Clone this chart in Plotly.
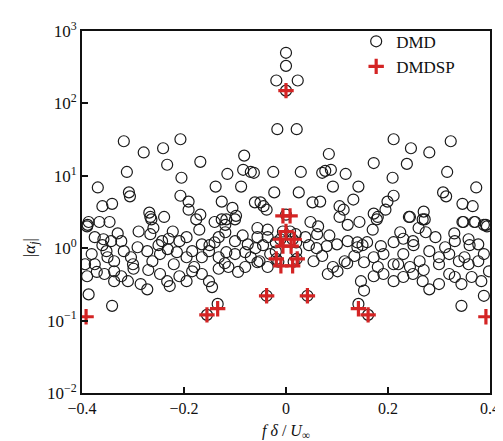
import plotly.graph_objects as go

# ---- DMD modes (frequency f*delta/U, amplitude |alpha_j|) ----
dmd_freq = [
    # upper left
    -0.318, -0.312, -0.279, -0.241, -0.233, -0.207, -0.205, -0.168, -0.369, -0.308,
    -0.306, -0.360, -0.341, -0.389, -0.390, -0.366, -0.346, -0.268, -0.264, -0.239,
    -0.207, -0.191, -0.191, -0.168, -0.138, -0.115, -0.126, -0.105, -0.117, -0.098,
    -0.082, -0.084, -0.069, -0.063, -0.088, -0.061, -0.050, -0.044, -0.038, -0.025,
    -0.023, -0.017, -0.140, -0.126, -0.019,
    # left band
    -0.387, -0.266, -0.176, -0.119, -0.100, -0.056, -0.036, -0.375, -0.358, -0.343,
    -0.323, -0.289, -0.266, -0.243, -0.222, -0.209, -0.195, -0.165, -0.132, -0.119,
    -0.100, -0.075, -0.056, -0.036, -0.381, -0.394, -0.375, -0.352, -0.337, -0.318,
    -0.304, -0.291, -0.272, -0.262, -0.247, -0.232, -0.214, -0.195, -0.184, -0.165,
    -0.151, -0.132, -0.117, -0.100, -0.080, -0.069, -0.052, -0.031, -0.390, -0.371,
    -0.356, -0.337, -0.323, -0.337, -0.310, -0.299, -0.285, -0.272, -0.247, -0.233,
    -0.228, -0.209, -0.195, -0.184, -0.165, -0.151, -0.145, -0.132, -0.113, -0.094,
    -0.080, -0.056, -0.036, -0.387, -0.341, -0.134, -0.038, -0.155,
    -0.360, -0.250, -0.150, -0.060, -0.300, -0.220, -0.120, -0.270, -0.180, -0.350,
    -0.230, -0.140, -0.045, -0.330, -0.260, -0.170, -0.085, -0.020, -0.020, -0.015,
    # centre
    0.000, 0.000, 0.000, 0.000, -0.006, 0.008, -0.011, 0.013, -0.019, 0.021,
    # upper right
    0.021, 0.211, 0.245, 0.281, 0.323, 0.084, 0.172, 0.237, 0.316, 0.071,
    0.077, 0.088, 0.117, 0.029, 0.209, 0.092, 0.142, 0.373, 0.308, 0.314,
    0.025, 0.211, 0.199, 0.195, 0.346, 0.366, 0.132, 0.052, 0.067, 0.105,
    0.113, 0.172, 0.180, 0.241, 0.270, 0.272, 0.346, 0.371, 0.392, 0.394,
    0.023,
    # right band
    0.048, 0.063, 0.105, 0.121, 0.144, 0.178, 0.243, 0.268, 0.348, 0.369,
    0.388, 0.019, 0.038, 0.061, 0.080, 0.100, 0.121, 0.140, 0.159, 0.186,
    0.211, 0.224, 0.249, 0.274, 0.293, 0.312, 0.331, 0.358, 0.377, 0.388,
    0.054, 0.071, 0.092, 0.115, 0.134, 0.153, 0.172, 0.191, 0.211, 0.230,
    0.243, 0.262, 0.281, 0.300, 0.320, 0.339, 0.358, 0.377, 0.082, 0.101,
    0.147, 0.153, 0.172, 0.191, 0.211, 0.230, 0.249, 0.268, 0.281, 0.300,
    0.320, 0.331, 0.344, 0.364, 0.383, 0.398, 0.388, 0.344, 0.142, 0.042, 0.161,
    0.360, 0.250, 0.150, 0.060, 0.300, 0.220, 0.120, 0.270, 0.180, 0.350,
    0.230, 0.140, 0.045, 0.330, 0.260, 0.170, 0.085, 0.020, 0.020, 0.015,
]
dmd_amp = [
    # upper left
    30, 11.3, 21, 24, 14.2, 32, 9.4, 15.6, 6.9, 5.9,
    5.2, 3.8, 4.1, 2.1, 2.0, 2.3, 2.3, 3.1, 2.5, 2.7,
    5.3, 4.4, 3.4, 2.9, 7.1, 10.6, 4.4, 3.6, 2.5, 2.8,
    19, 12.1, 11.3, 11.0, 7.1, 4.3, 4.3, 3.8, 3.4, 11.3,
    5.9, 44, 2.3, 2.5, 207,
    # left band
    2.3, 2.7, 2.5, 2.1, 2.5, 1.9, 1.8, 1.42, 1.33, 1.25,
    1.25, 1.7, 1.56, 1.25, 1.7, 1.25, 1.42, 1.13, 1.42, 1.66,
    1.25, 1.13, 1.42, 1.42, 0.83, 0.60, 0.60, 0.91, 0.66, 0.91,
    0.75, 1.03, 0.91, 0.66, 0.83, 0.97, 0.88, 0.75, 0.91, 0.75,
    0.91, 0.75, 0.88, 0.83, 0.88, 0.75, 0.66, 0.83, 0.41, 0.47,
    0.44, 0.48, 0.41, 0.35, 0.35, 0.52, 0.32, 0.27, 0.44, 0.35,
    0.30, 0.41, 0.35, 0.48, 0.44, 0.35, 0.29, 0.52, 0.55, 0.47,
    0.55, 0.64, 0.55, 0.23, 0.16, 0.17, 0.22, 0.12,
    1.1, 1.1, 1.1, 1.0, 0.6, 0.6, 0.62, 0.5, 0.55, 0.75,
    1.35, 1.2, 1.1, 1.6, 1.9, 1.8, 1.5, 1.2, 0.9, 0.65,
    # centre
    500, 330, 150, 2.9, 1.7, 1.7, 1.33, 1.33, 0.71, 0.71,
    # upper right
    44, 32, 24, 21, 30, 20, 15, 14.6, 11.3, 11.0,
    11.7, 12.1, 10.6, 11.3, 9.4, 7.1, 7.1, 6.9, 5.9, 5.2,
    5.9, 5.3, 4.4, 3.4, 4.1, 3.8, 4.7, 4.3, 4.4, 3.8,
    3.4, 3.0, 2.7, 2.7, 3.2, 2.5, 2.3, 2.3, 2.1, 2.0,
    207,
    # right band
    2.3, 2.0, 2.7, 2.1, 2.3, 2.5, 2.7, 2.5, 2.3, 2.3,
    2.1, 1.56, 1.42, 1.56, 1.07, 1.13, 1.25, 1.03, 1.21, 1.07,
    1.21, 1.66, 1.25, 1.66, 1.42, 1.03, 1.25, 1.33, 1.13, 0.83,
    0.66, 0.78, 0.55, 0.66, 0.78, 0.64, 0.75, 0.83, 0.60, 0.83,
    0.55, 0.66, 0.91, 0.75, 0.83, 0.66, 0.60, 0.66, 0.44, 0.48,
    0.35, 0.26, 0.41, 0.44, 0.35, 0.40, 0.44, 0.35, 0.27, 0.32,
    0.44, 0.40, 0.32, 0.40, 0.35, 0.48, 0.22, 0.16, 0.17, 0.22, 0.12,
    1.1, 1.1, 1.1, 1.0, 0.6, 0.6, 0.62, 0.5, 0.55, 0.75,
    1.35, 1.2, 1.1, 1.6, 1.9, 1.8, 1.5, 1.2, 0.9, 0.65,
]

# ---- DMDSP selected modes ----
dmdsp_freq = [-0.392, -0.155, -0.134, -0.038, 0.000, -0.006, 0.008, 0.000,
              -0.011, 0.016, -0.006, 0.010, -0.019, 0.022, -0.010, 0.013,
              0.042, 0.142, 0.161, 0.392]
dmdsp_amp = [0.113, 0.12, 0.146, 0.22, 150, 2.8, 2.8, 1.7,
             1.33, 1.33, 1.07, 1.07, 0.71, 0.71, 0.57, 0.57,
             0.22, 0.146, 0.12, 0.113]

x_ticks = [-0.4, -0.2, 0, 0.2, 0.4]
x_tick_text = ["\u22120.4", "\u22120.2", "0", "0.2", "0.4"]
y_ticks = [0.01, 0.1, 1, 10, 100, 1000]
y_tick_text = ["10<sup>\u22122</sup>", "10<sup>\u22121</sup>", "10<sup>0</sup>",
               "10<sup>1</sup>", "10<sup>2</sup>", "10<sup>3</sup>"]

FONT = "Liberation Serif, Times New Roman, serif"

fig = go.Figure()
fig.add_trace(go.Scatter(
    x=dmd_freq, y=dmd_amp, mode="markers", name="DMD",
    marker=dict(symbol="circle-open", size=11, color="#1a1a1a",
                line=dict(width=1.2, color="#1a1a1a")),
))
fig.add_trace(go.Scatter(
    x=dmdsp_freq, y=dmdsp_amp, mode="markers", name="DMDSP",
    marker=dict(symbol="cross-thin", size=11, color="#d42424",
                line=dict(width=3.2, color="#d42424")),
))

fig.update_layout(
    width=503, height=441,
    margin=dict(l=74, r=11, t=20, b=56),
    paper_bgcolor="white", plot_bgcolor="white",
    font=dict(family=FONT, size=17, color="#111"),
    showlegend=True,
    legend=dict(x=0.672, y=1.02, xanchor="left", yanchor="top",
                bgcolor="rgba(0,0,0,0)", font=dict(family=FONT, size=17),
                tracegroupgap=0),
    xaxis=dict(range=[-0.4, 0.4], tickvals=x_ticks, ticktext=x_tick_text,
               ticks="inside", ticklen=6, tickwidth=1.5, tickcolor="#111",
               tickfont=dict(size=16),
               showline=True, linecolor="#111", linewidth=2, mirror=True,
               showgrid=False, zeroline=False),
    yaxis=dict(type="log", range=[-2, 3], tickvals=y_ticks, ticktext=y_tick_text,
               ticks="inside", ticklen=6, tickwidth=1.5, tickcolor="#111",
               showline=True, linecolor="#111", linewidth=2, mirror=True,
               showgrid=False, zeroline=False),
    annotations=[
        dict(text="<i>f \u03b4</i> / <i>U</i><sub>\u221e</sub>", xref="paper", yref="paper",
             x=0.5, y=-0.106, xanchor="center", yanchor="middle", showarrow=False,
             font=dict(family=FONT, size=16)),
        dict(text="|<i>\u03b1</i><sub><i>j</i></sub>|", xref="paper", yref="paper",
             x=-0.125, y=0.4, xanchor="center", yanchor="middle", showarrow=False,
             textangle=-90, font=dict(family=FONT, size=17)),
    ],
)

fig.write_html("out.html")
